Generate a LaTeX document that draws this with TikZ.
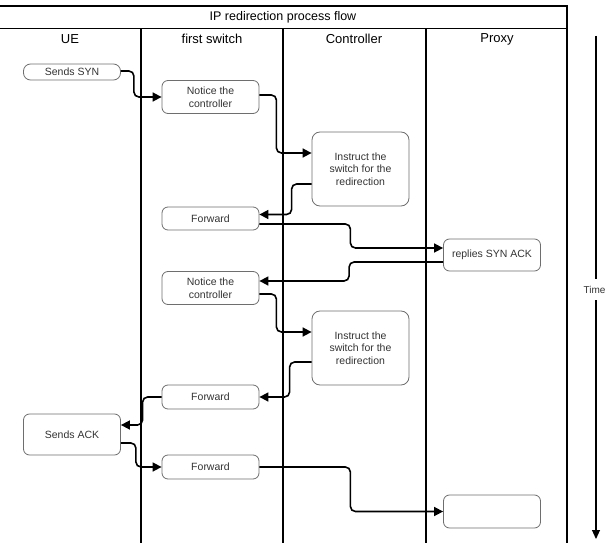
\documentclass[tikz,border=0pt]{standalone}
\usepackage{fontspec}
\setmainfont{Liberation Sans}
\usetikzlibrary{arrows.meta}
\definecolor{txt}{HTML}{333333}
\definecolor{boxline}{HTML}{6E6E6E}
\tikzset{
  box/.style={draw=boxline, line width=0.8pt, rounded corners=6pt, fill=white,
    align=center, text=txt, font=\fontsize{10.5}{12.5}\selectfont, inner sep=0pt,
    minimum width=97pt},
  conn/.style={draw=black, line width=1.6pt, rounded corners=5pt,
    -{Triangle[length=9pt,width=9pt]}},
  lane/.style={draw=black, line width=1.1pt},
  head/.style={font=\fontsize{13}{15}\selectfont, text=black, inner sep=0pt},
}
\begin{document}
\begin{tikzpicture}[x=1pt,y=-1pt]
\useasboundingbox (0,0) rectangle (606,543);
% table
\coordinate (tl) at (-3,6);
\coordinate (tr) at (567,6);
\coordinate (hl) at (-3,28.5);
\coordinate (hr) at (567,28.5);
\coordinate (bl) at (-3,548);
\coordinate (br) at (567,548);
\draw[lane] (tl) -- (tr) -- (br);
\draw[lane] (hl) -- (hr);
\draw[lane] (-3,6) -- (bl);
\coordinate (l1t) at (141,28.5); \coordinate (l1b) at (141,548);
\coordinate (l2t) at (283,28.5); \coordinate (l2b) at (283,548);
\coordinate (l3t) at (426,28.5); \coordinate (l3b) at (426,548);
\draw[lane] (l1t) -- (l1b);
\draw[lane] (l2t) -- (l2b);
\draw[lane] (l3t) -- (l3b);
\node[head, font=\fontsize{12.5}{15}\selectfont] (title) at (283,17) {IP redirection process flow};
\node[head] (hue) at (70,39) {UE};
\node[head] (hsw) at (212,39) {first switch};
\node[head] (hct) at (354,39) {Controller};
\node[head] (hpx) at (497,39) {Proxy};
% time arrow
\node[font=\fontsize{10}{12}\selectfont, text=txt, inner sep=0pt] (time) at (594.5,289.5) {Time};
\coordinate (t0) at (596,36);
\coordinate (t1) at (596,539);
\coordinate (t0e) at (596,279);
\coordinate (t1s) at (596,300);
\draw[line width=1.1pt] (t0) -- (t0e);
\draw[line width=1.1pt, -{Triangle[length=9pt,width=8pt]}] (t1s) -- (t1);
% boxes
\node[box, minimum height=16pt, rounded corners=7pt] (syn) at (72,72) {Sends SYN};
\node[box, minimum height=33pt] (n1) at (210.5,97) {Notice the\\controller};
\node[box, minimum height=74pt, rounded corners=8pt] (i1) at (360.5,169) {Instruct the\\switch for the\\redirection};
\node[box, minimum height=23pt] (f1) at (210.5,218.5) {Forward};
\node[box, minimum height=32pt] (ack) at (492,255) {replies SYN ACK};
\node[box, minimum height=33pt] (n2) at (210.5,288) {Notice the\\controller};
\node[box, minimum height=74pt, rounded corners=8pt] (i2) at (360.5,348) {Instruct the\\switch for the\\redirection};
\node[box, minimum height=24pt] (f2) at (210.5,397) {Forward};
\node[box, minimum height=41pt] (sack) at (72,434.5) {Sends ACK};
\node[box, minimum height=24pt] (f3) at (210.5,467) {Forward};
\node[box, minimum height=33pt] (empty) at (492,511.5) {};
% connectors
\draw[conn] ([yshift=1pt]syn.east) -- ++(13,0) |- (n1.west);
\draw[conn] ([yshift=2pt]n1.east) -- ++(17,0) |- ([yshift=16pt]i1.west);
\draw[conn] ([yshift=-15pt]i1.west) -- ++(-20,0) |- ([yshift=4pt]f1.east);
\draw[conn] ([yshift=-5.5pt]f1.east) -- ++(91,0) |- ([yshift=7pt]ack.west);
\draw[conn] ([yshift=-7pt]ack.west) -- ++(-94,0) |- ([yshift=7pt]n2.east);
\draw[conn] ([yshift=-6pt]n2.east) -- ++(17,0) |- ([yshift=16pt]i2.west);
\draw[conn] ([yshift=-14pt]i2.west) -- ++(-22,0) |- (f2.east);
\draw[conn] (f2.west) -- ++(-19,0) |- ([yshift=9.5pt]sack.east);
\draw[conn] ([yshift=-8.5pt]sack.east) -- ++(15,0) |- (f3.west);
\draw[conn] (f3.east) -- ++(91,0) |- (empty.west);
\end{tikzpicture}
\end{document}
